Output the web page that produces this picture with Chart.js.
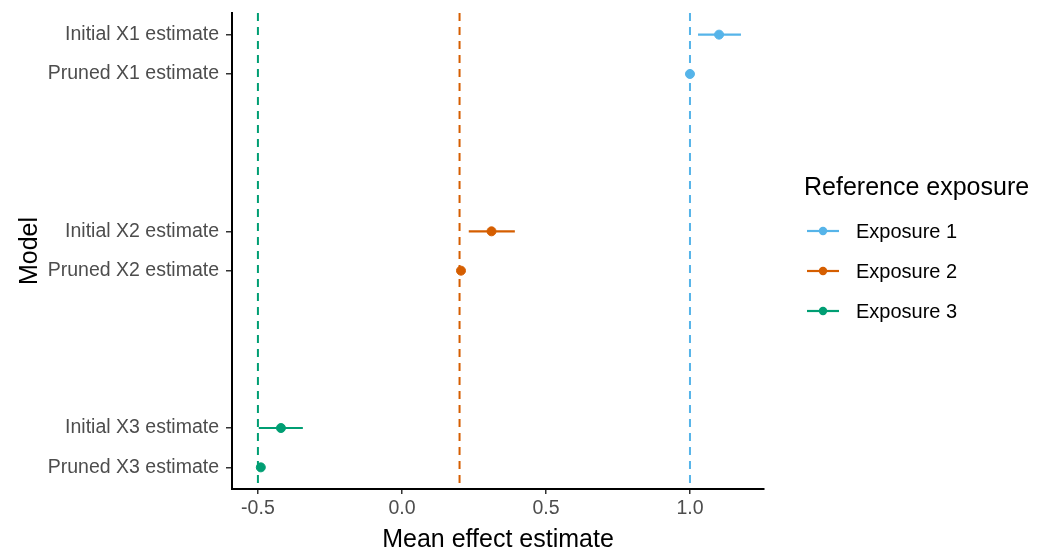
<!DOCTYPE html>
<html>
<head>
<meta charset="utf-8">
<script src="https://cdn.jsdelivr.net/npm/chart.js@4"></script>
<style>
  html, body { margin: 0; padding: 0; background: #fff; }
  #wrap { width: 1037px; height: 551px; }
</style>
</head>
<body>
<div id="wrap"><canvas id="forest"></canvas></div>
<script>
// model rows, top to bottom, and the slot each sits in on the y axis
const models   = ['Initial X1 estimate', 'Pruned X1 estimate', 'Initial X2 estimate', 'Pruned X2 estimate', 'Initial X3 estimate', 'Pruned X3 estimate'];
const slots    = [11, 10, 6, 5, 1, 0];
const exposure = [0, 0, 1, 1, 2, 2];

// mean effect with interval
const estimate = [1.101, 1.000, 0.311, 0.205, -0.420, -0.490];
const lower    = [1.028, 0.990, 0.232, 0.195, -0.497, -0.502];
const upper    = [1.177, 1.010, 0.392, 0.215, -0.344, -0.478];

// reference exposures and their true effects
const exposureNames = ['Exposure 1', 'Exposure 2', 'Exposure 3'];
const trueEffect    = [1.0, 0.2, -0.5];
const colors        = ['#56B4E9', '#D55E00', '#009E73'];

const xTicks = [-0.5, 0.0, 0.5, 1.0];
const yMin = -0.55, yMax = 11.55;

const FONT = '"Liberation Sans", Arial, sans-serif';

const datasets = [];

// dashed reference lines, drawn top-down so the dash pattern starts at the top
trueEffect.forEach((v, i) => {
  datasets.push({
    type: 'scatter',
    data: [{ x: v, y: yMax }, { x: v, y: yMin }],
    showLine: true,
    borderColor: colors[i],
    borderWidth: 2,
    borderDash: [8, 6],
    pointRadius: 0
  });
});

// interval segments
models.forEach((m, i) => {
  datasets.push({
    type: 'scatter',
    data: [{ x: lower[i], y: slots[i] }, { x: upper[i], y: slots[i] }],
    showLine: true,
    borderColor: colors[exposure[i]],
    borderWidth: 2.2,
    pointRadius: 0
  });
});

// point estimates
models.forEach((m, i) => {
  datasets.push({
    type: 'scatter',
    data: [{ x: estimate[i], y: slots[i] }],
    backgroundColor: colors[exposure[i]],
    borderColor: colors[exposure[i]],
    pointRadius: 4.5,
    pointHoverRadius: 4.5
  });
});

// legend drawn by hand to the right of the panel
const exposureLegend = {
  id: 'exposureLegend',
  afterDraw(chart) {
    const ctx = chart.ctx;
    ctx.save();
    ctx.textBaseline = 'middle';
    ctx.textAlign = 'left';
    ctx.fillStyle = '#000';
    ctx.font = '25px ' + FONT;
    ctx.fillText('Reference exposure', 804, 188);
    ctx.font = '20px ' + FONT;
    exposureNames.forEach((name, i) => {
      const y = 231 + i * 40;
      ctx.strokeStyle = colors[i];
      ctx.lineWidth = 2.2;
      ctx.beginPath();
      ctx.moveTo(807, y);
      ctx.lineTo(839, y);
      ctx.stroke();
      ctx.fillStyle = colors[i];
      ctx.beginPath();
      ctx.arc(823, y, 4.2, 0, Math.PI * 2);
      ctx.fill();
      ctx.fillStyle = '#000';
      ctx.fillText(name, 856, y + 1);
    });
    ctx.restore();
  }
};

new Chart(document.getElementById('forest'), {
  type: 'scatter',
  data: { datasets: datasets },
  options: {
    responsive: true,
    maintainAspectRatio: false,
    animation: false,
    layout: { padding: { left: 0, right: 273, top: 13, bottom: 0 } },
    plugins: {
      legend: { display: false },
      tooltip: { enabled: false }
    },
    scales: {
      x: {
        type: 'linear',
        min: -0.59,
        max: 1.257,
        afterBuildTicks: (scale) => { scale.ticks = xTicks.map(v => ({ value: v })); },
        afterFit: (scale) => { scale.height = 62; scale.paddingLeft = 0; scale.paddingRight = 0; },
        border: { display: true, color: '#000', width: 2 },
        grid: { drawOnChartArea: false, drawTicks: true, tickLength: 5, color: '#333', lineWidth: 1.5 },
        ticks: {
          color: '#4D4D4D',
          font: { size: 19.5, family: FONT },
          padding: 3,
          callback: (v) => Number(v).toFixed(1)
        },
        title: {
          display: true,
          text: 'Mean effect estimate',
          color: '#000',
          font: { size: 25, family: FONT, lineHeight: 1 },
          padding: { top: 0, bottom: -2 }
        }
      },
      y: {
        type: 'linear',
        min: yMin,
        max: yMax,
        afterBuildTicks: (scale) => { scale.ticks = slots.map(v => ({ value: v })); },
        afterFit: (scale) => { scale.width = 232; scale.paddingTop = 0; scale.paddingBottom = 0; },
        border: { display: true, color: '#000', width: 2 },
        grid: { drawOnChartArea: false, drawTicks: true, tickLength: 6, color: '#333', lineWidth: 1.5 },
        ticks: {
          color: '#4D4D4D',
          font: { size: 19.5, family: FONT },
          padding: 7,
          callback: (v) => models[slots.indexOf(v)]
        },
        title: {
          display: true,
          text: 'Model',
          color: '#000',
          font: { size: 25, family: FONT },
          padding: { top: 15, bottom: 0 }
        }
      }
    }
  },
  plugins: [exposureLegend]
});
</script>
</body>
</html>
